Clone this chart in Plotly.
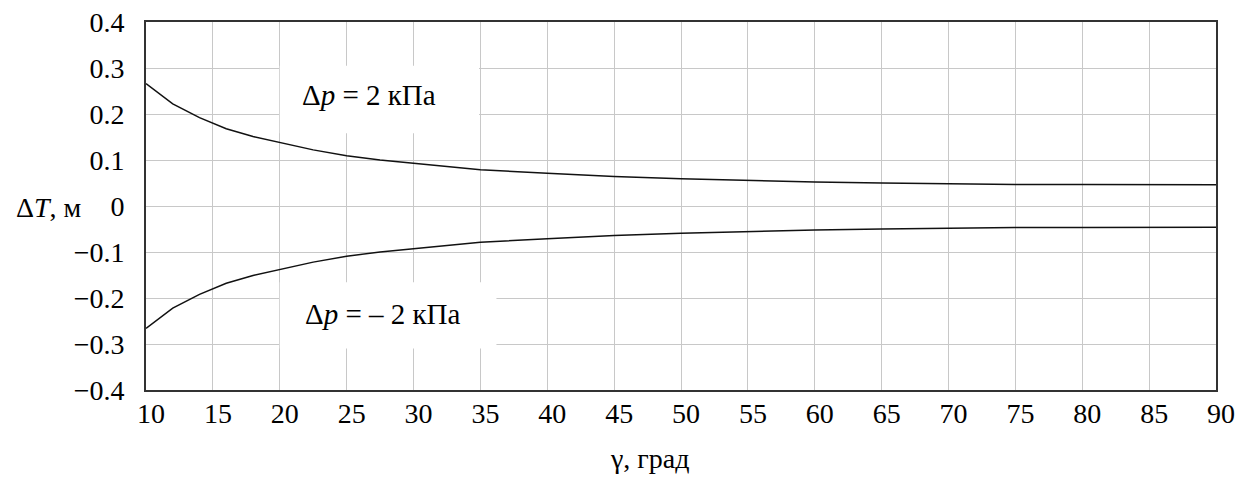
import plotly.graph_objects as go

# --- data ---
gamma_deg = [10, 12, 14, 16, 18, 20, 22.5, 25, 27.5, 30, 35, 40, 45, 50, 55, 60, 65, 70, 75, 80, 85, 90]
dT_pos = [0.266, 0.222, 0.192, 0.168, 0.151, 0.138, 0.122, 0.109, 0.100, 0.093, 0.079, 0.071,
          0.064, 0.059, 0.055, 0.052, 0.050, 0.048, 0.047, 0.047, 0.046, 0.046]
dT_neg = [-0.266, -0.222, -0.192, -0.168, -0.151, -0.138, -0.122, -0.109, -0.100, -0.093, -0.079, -0.071,
          -0.064, -0.059, -0.055, -0.052, -0.050, -0.048, -0.047, -0.047, -0.046, -0.046]

x_ticks = [10, 15, 20, 25, 30, 35, 40, 45, 50, 55, 60, 65, 70, 75, 80, 85, 90]
y_ticks = [0.4, 0.3, 0.2, 0.1, 0, -0.1, -0.2, -0.3, -0.4]
y_tick_text = ["0.4", "0.3", "0.2", "0.1", "0", "\u22120.1", "\u22120.2", "\u22120.3", "\u22120.4"]

label_pos = "\u0394<i>p</i> = 2 \u043a\u041f\u0430"
label_neg = "\u0394<i>p</i> = \u2013 2 \u043a\u041f\u0430"
x_title = "\u03b3, \u0433\u0440\u0430\u0434"
y_title = "\u0394<i>T</i>, \u043c"

FONT = "Liberation Serif"

# page offset (browser body margin) and figure geometry
OFF = 8
W, H = 1249 - OFF, 489 - OFF
ML, MR, MT, MB = 146 - OFF, 33, 22 - OFF, 99
pw, ph = W - ML - MR, H - MT - MB


def px_to_paper(px, py):
    """page pixel -> paper coordinates"""
    return (px - OFF - ML) / pw, (H - MB - (py - OFF)) / ph


fig = go.Figure()
fig.add_trace(go.Scatter(x=gamma_deg, y=dT_pos, mode="lines",
                         line=dict(color="#111111", width=1.5), showlegend=False))
fig.add_trace(go.Scatter(x=gamma_deg, y=dT_neg, mode="lines",
                         line=dict(color="#111111", width=1.5), showlegend=False))

# white label boxes covering the grid
fig.add_shape(type="rect", x0=20, x1=34.9, y0=0.158, y1=0.305, xref="x", yref="y",
              fillcolor="white", line=dict(width=0), layer="between")
fig.add_shape(type="rect", x0=20, x1=36.2, y0=-0.31, y1=-0.166, xref="x", yref="y",
              fillcolor="white", line=dict(width=0), layer="between")

fig.add_annotation(x=26.7, y=0.242, xref="x", yref="y", text=label_pos, showarrow=False,
                   font=dict(family=FONT, size=29, color="black"))
fig.add_annotation(x=27.7, y=-0.235, xref="x", yref="y", text=label_neg, showarrow=False,
                   font=dict(family=FONT, size=29, color="black"))

# axis titles
yx, yy = px_to_paper(84, 207)
fig.add_annotation(x=yx, y=yy, xref="paper", yref="paper", text=y_title, showarrow=False,
                   xanchor="right", yanchor="middle",
                   font=dict(family=FONT, size=28, color="black"))
xx, xy = px_to_paper(650, 458)
fig.add_annotation(x=xx, y=xy, xref="paper", yref="paper", text=x_title, showarrow=False,
                   xanchor="center", yanchor="middle",
                   font=dict(family=FONT, size=28, color="black"))

fig.update_xaxes(range=[10, 90], tickvals=x_ticks, showgrid=True, gridcolor="#c8c8c8", gridwidth=1.4,
                 showline=True, linecolor="#333333", linewidth=1.7, mirror=True, zeroline=False,
                 ticks="", ticklabelstandoff=-2, ticklabelshift=5, automargin=False,
                 ticklabeloverflow="allow",
                 tickfont=dict(family=FONT, size=28, color="black"))
fig.update_yaxes(range=[-0.4, 0.4], tickvals=y_ticks, ticktext=y_tick_text, showgrid=True,
                 gridcolor="#c8c8c8", gridwidth=1.4, showline=True, linecolor="#333333", linewidth=1.7,
                 mirror=True, zeroline=False, ticks="", ticklabelstandoff=14, automargin=False,
                 ticklabeloverflow="allow",
                 tickfont=dict(family=FONT, size=28, color="black"))

fig.update_layout(width=W, height=H, margin=dict(l=ML, r=MR, t=MT, b=MB, autoexpand=False),
                  paper_bgcolor="white", plot_bgcolor="white")

fig.write_html("out.html")
